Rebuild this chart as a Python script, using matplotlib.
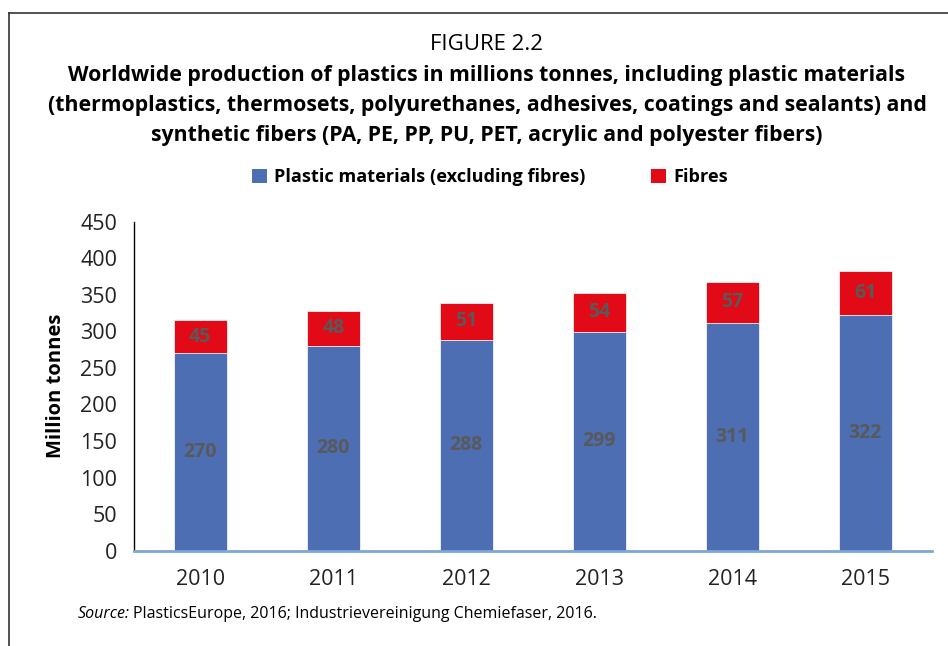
import matplotlib
matplotlib.use("Agg")
import matplotlib.pyplot as plt
from matplotlib.patches import Patch
from matplotlib.lines import Line2D

plt.rcParams['font.family'] = ['Open Sans', 'DejaVu Sans']

years = ['2010', '2011', '2012', '2013', '2014', '2015']
plastics = [270, 280, 288, 299, 311, 322]
fibres = [45, 48, 51, 54, 57, 61]
yticks = [0, 50, 100, 150, 200, 250, 300, 350, 400, 450]

blue = '#4D6EB3'
red = '#E20A16'
lab_col = '#595959'

fig = plt.figure(figsize=(9.48, 6.46), dpi=100)
ax = fig.add_axes([133.7/948, (646-550.7)/646, (932-133.7)/948, (550.7-221.7)/646])

x = list(range(len(years)))
b1 = ax.bar(x, plastics, width=0.4, color=blue, edgecolor='white', linewidth=0.5, zorder=2)
b2 = ax.bar(x, fibres, width=0.4, bottom=plastics, color=red, edgecolor='white', linewidth=0.5, zorder=2)
ax.bar_label(b1, labels=[str(v) for v in plastics], label_type='center', color=lab_col,
             fontsize=14, fontweight='bold')
ax.bar_label(b2, labels=[str(v) for v in fibres], label_type='center', color=lab_col,
             fontsize=14, fontweight='bold')

ax.set_xlim(-0.5, len(years) - 0.5)
ax.set_ylim(0, 450)
ax.set_yticks(yticks)
ax.set_yticklabels([str(v) for v in yticks], fontsize=15.5, color='#222222')
ax.set_xticks(x)
ax.set_xticklabels(years, fontsize=15.5, color='#222222')
ax.tick_params(axis='both', length=0)
ax.tick_params(axis='x', pad=13)
ax.tick_params(axis='y', pad=12)
for s in ['top', 'right']:
    ax.spines[s].set_visible(False)
ax.spines['left'].set_color('black')
ax.spines['left'].set_linewidth(1.0)
ax.spines['bottom'].set_color('#7DA7D9')
ax.spines['bottom'].set_linewidth(2.0)
ax.set_ylabel('Million tonnes', fontsize=14.5, fontweight='bold', labelpad=10)

# Titles
fig.text(487/948, 1 - 45/646, 'FIGURE 2.2', ha='center', va='center', fontsize=16)
title_lines = [
    'Worldwide production of plastics in millions tonnes, including plastic materials',
    '(thermoplastics, thermosets, polyurethanes, adhesives, coatings and sealants) and',
    'synthetic fibers (PA, PE, PP, PU, PET, acrylic and polyester fibers)',
]
for i, t in enumerate(title_lines):
    fig.text(487/948, 1 - (76 + i*29.5)/646, t, ha='center', va='center',
             fontsize=15.3, fontweight='bold')

handles = [Patch(facecolor=blue), Patch(facecolor=red)]
leg = fig.legend(handles, ['Plastic materials (excluding fibres)', 'Fibres'],
                 loc='center', bbox_to_anchor=(490/948, 1 - 177/646), ncol=2, frameon=False,
                 prop={'weight': 'bold', 'size': 13.1}, handlelength=0.8, handleheight=0.8,
                 handletextpad=0.4, columnspacing=3.6)

fig.text(78/948, 1 - 614/646, 'Source:', ha='left', va='center', fontsize=11.5, style='italic')
fig.text(133/948, 1 - 614/646, 'PlasticsEurope, 2016; Industrievereinigung Chemiefaser, 2016.',
         ha='left', va='center', fontsize=11.5)

# Frame lines
fig.add_artist(Line2D([9/948, 9/948], [0, 1 - 12.5/646], transform=fig.transFigure,
                      color='#333333', linewidth=1.2))
fig.add_artist(Line2D([9/948, 1], [1 - 12.5/646, 1 - 12.5/646], transform=fig.transFigure,
                      color='#333333', linewidth=1.2))

fig.savefig('out.png', dpi=100)
